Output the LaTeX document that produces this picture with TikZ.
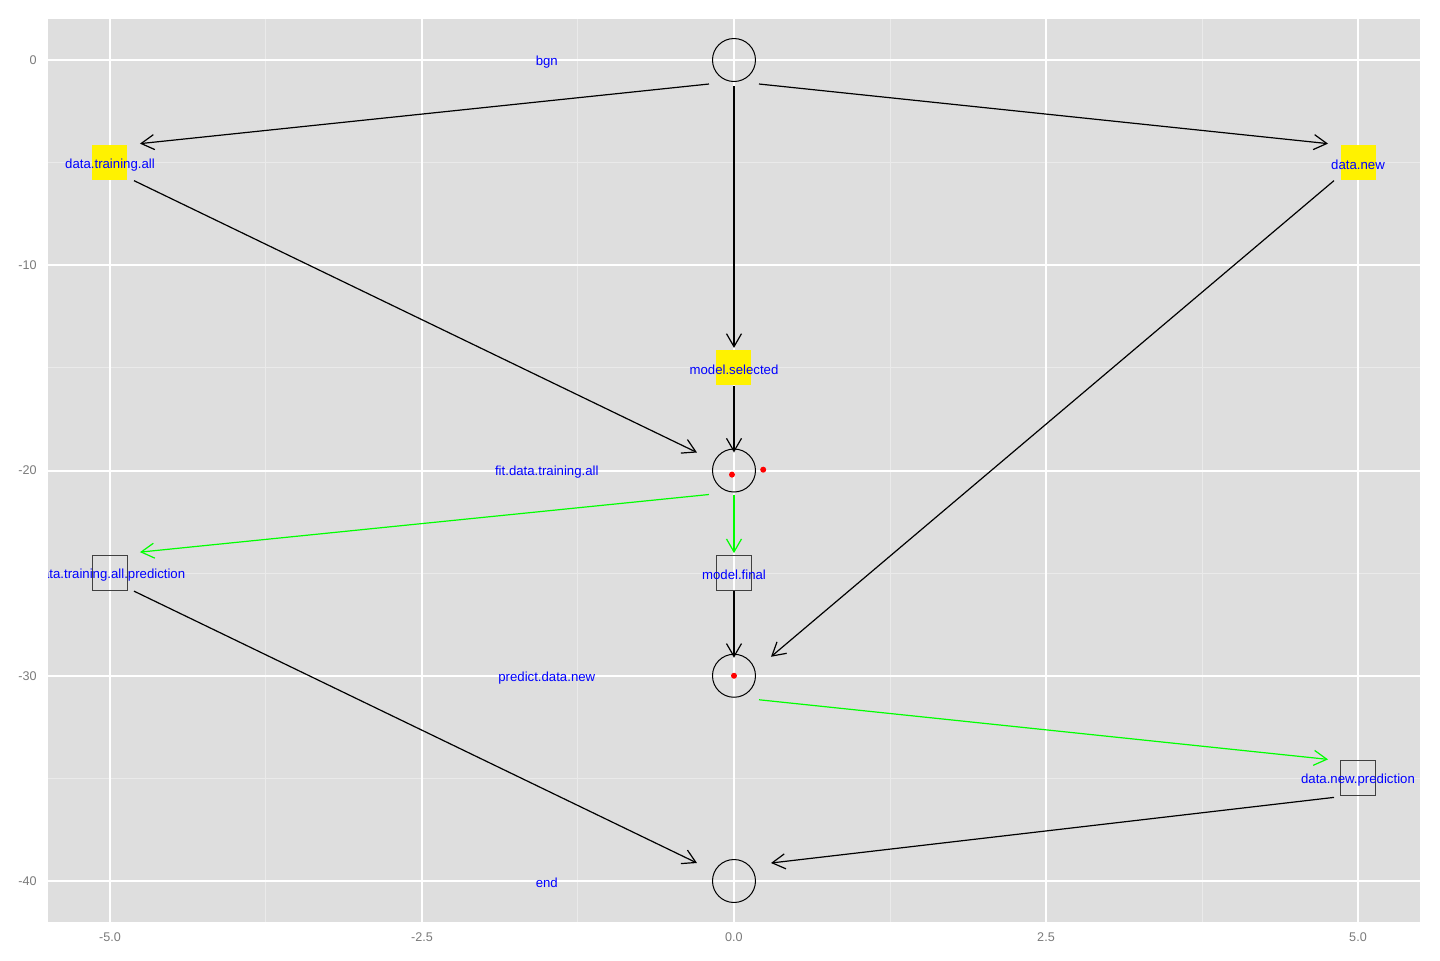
\documentclass[tikz,border=0pt]{standalone}
\usepackage{fontspec}
\setmainfont{Liberation Sans}
\usetikzlibrary{arrows.meta,calc}

\definecolor{panel}{HTML}{DEDEDE}
\definecolor{minorgrid}{HTML}{EAEAEA}
\definecolor{axistext}{HTML}{7A7A7A}

\tikzset{
  circ/.style={circle,draw,line width=0.5pt,minimum size=21.5pt,inner sep=0pt},
  box/.style={rectangle,draw=black!75,line width=0.6pt,minimum size=17.5pt,inner sep=0pt},
  ybox/.style={rectangle,fill=yellow,minimum size=17.5pt,inner sep=0pt},
  lbl/.style={text=blue,font=\fontsize{6.6}{7}\selectfont,inner sep=0pt,yshift=-1pt},
  tick/.style={text=axistext,font=\fontsize{6.3}{7}\selectfont,inner sep=0pt},
  link/.style={line width=0.6pt,-{Straight Barb[length=6.5pt,width=7.5pt]}},
  glink/.style={link,draw=green},
  dot/.style={circle,fill=red,inner sep=0pt,minimum size=3pt},
}

\begin{document}
\begin{tikzpicture}[x=62.4pt, y=10.2625pt]

    \useasboundingbox (-5.8814,-43.849) rectangle (5.6571,2.9233);

    % panel and grid
    \fill[panel] (-5.5,-42) rectangle (5.5,2);
    \foreach \gx in {-3.75,-1.25,1.25,3.75}
        \draw[minorgrid,line width=0.5pt] (\gx,-42) -- (\gx,2);
    \foreach \gy in {-5,-15,-25,-35}
        \draw[minorgrid,line width=0.5pt] (-5.5,\gy) -- (5.5,\gy);
    \foreach \gx in {-5,-2.5,0,2.5,5}
        \draw[white,line width=1pt] (\gx,-42) -- (\gx,2);
    \foreach \gy in {0,-10,-20,-30,-40}
        \draw[white,line width=1pt] (-5.5,\gy) -- (5.5,\gy);

    % nodes
    \node[circ] (bgn) at (0,0) {};
    \node[ybox] (dta) at (-5,-5) {};
    \node[ybox] (dn) at (5,-5) {};
    \node[ybox] (ms) at (0,-15) {};
    \node[circ] (fit) at (0,-20) {};
    \node[box] (dtap) at (-5,-25) {};
    \node[box] (mf) at (0,-25) {};
    \node[circ] (pred) at (0,-30) {};
    \node[box] (dnp) at (5,-35) {};
    \node[circ] (end) at (0,-40) {};

    % connectors
    \draw[link] ($(bgn)+(-12.5pt,-12pt)$) -- ($(dta)+(15pt,9.5pt)$);
    \draw[link] ($(bgn)+(0,-13pt)$) -- ($(ms)+(0,10pt)$);
    \draw[link] ($(bgn)+(12.5pt,-12pt)$) -- ($(dn)+(-15pt,9.5pt)$);
    \draw[link] ($(dta)+(12pt,-9pt)$) -- ($(fit)+(-18.5pt,9pt)$);
    \draw[link] ($(dn)+(-12pt,-9pt)$) -- ($(pred)+(18.5pt,9.5pt)$);
    \draw[link] ($(ms)+(0,-9pt)$) -- ($(fit)+(0,9pt)$);
    \draw[glink] ($(fit)+(-12.5pt,-12pt)$) -- ($(dtap)+(15pt,10.5pt)$);
    \draw[glink] ($(fit)+(0,-12pt)$) -- ($(mf)+(0,10pt)$);
    \draw[link] ($(dtap)+(12pt,-9pt)$) -- ($(end)+(-18.5pt,9pt)$);
    \draw[link] ($(mf)+(0,-9pt)$) -- ($(pred)+(0,9pt)$);
    \draw[glink] ($(pred)+(12.5pt,-12pt)$) -- ($(dnp)+(-15pt,9.5pt)$);
    \draw[link] ($(dnp)+(-12pt,-9.5pt)$) -- ($(end)+(18.5pt,9pt)$);

    % red points
    \node[dot] (fit-a) at (-0.016,-20.2) {};
    \node[dot] (fit-b) at (0.234,-19.96) {};
    \node[dot] (pred-a) at (pred) {};

    % labels
    \node[lbl] (bgn-l) at (-1.5,0) {bgn};
    \node[lbl] (dta-l) at (dta) {data.training.all};
    \node[lbl] (dn-l) at (dn) {data.new};
    \node[lbl] (ms-l) at (ms) {model.selected};
    \node[lbl] (fit-l) at (-1.5,-20) {fit.data.training.all};
    \node[lbl] (dtap-l) at (dtap) {data.training.all.prediction};
    \node[lbl] (mf-l) at (mf) {model.final};
    \node[lbl] (pred-l) at (-1.5,-30) {predict.data.new};
    \node[lbl] (dnp-l) at (dnp) {data.new.prediction};
    \node[lbl] (end-l) at (-1.5,-40) {end};

    % white margin hides label overflow
    \fill[white] (-5.8814,-43.849) rectangle (-5.5,2.9233);

    % axis labels
    \foreach \gy in {0,-10,-20,-30,-40}
        \node[tick,anchor=east] (ty\gy) at (-5.585,\gy) {\gy};
    \foreach \gx/\gt in {-5/-5.0,-2.5/-2.5,0/0.0,2.5/2.5,5/5.0}
        \node[tick] (tx\gx) at (\gx,-42.73) {\gt};

\end{tikzpicture}
\end{document}
